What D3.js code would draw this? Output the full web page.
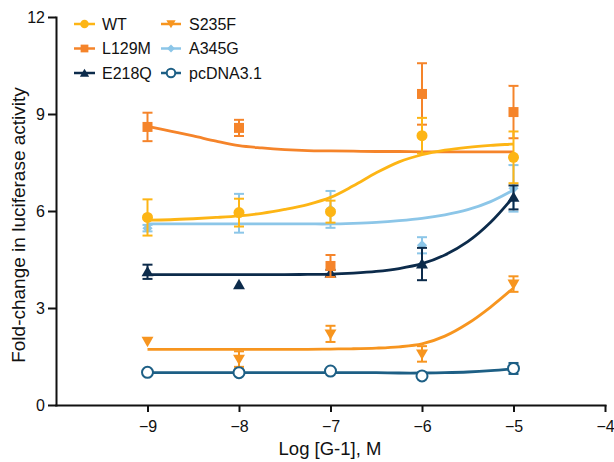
<!DOCTYPE html>
<html>
<head>
<meta charset="utf-8">
<script src="https://cdn.jsdelivr.net/npm/d3@7"></script>
<style>
  body { margin: 0; background: #fff; }
  text { font-family: "Liberation Sans", Arial, Helvetica, sans-serif; fill: #111; }
</style>
</head>
<body>
<svg></svg>
<script>
// log doses where points were measured, and x positions of the fitted curves
var doses = [-9, -8, -7, -6, -5];
var fitX = [-9, -8.75, -8.5, -8.25, -8, -7.75, -7.5, -7.25, -7,
            -6.75, -6.5, -6.25, -6, -5.75, -5.5, -5.25, -5];

var names = ["WT", "L129M", "E218Q", "S235F", "A345G", "pcDNA3.1"];
var colors = ["#fdb515", "#f5842a", "#0c2b4b", "#f7951f", "#8cc6e8", "#1d5f85"];
var shapes = ["circle", "square", "triangle", "triangleDown", "diamond", "openCircle"];

// means and error bars
var wtMean = [5.8, 5.95, 5.98, 8.33, 7.66];
var wtErr = [0.56, 0.43, 0.34, 0.55, 0.8];
var l129mMean = [8.6, 8.57, 4.3, 9.62, 9.06];
var l129mErr = [0.44, 0.25, 0.34, 0.95, 0.81];
var e218qMean = [4.12, 3.72, 4.08, 4.36, 6.42];
var e218qErr = [0.22, 0, 0.1, 0.5, 0.37];
var s235fMean = [1.97, 1.42, 2.2, 1.58, 3.74];
var s235fErr = [0, 0.24, 0.25, 0.24, 0.24];
var a345gMean = [5.47, 5.93, 6.05, 4.94, 6.7];
var a345gErr = [0.1, 0.6, 0.57, 0.25, 0.72];
var pcdnaMean = [1.01, 1.0, 1.05, 0.9, 1.13];
var pcdnaErr = [0.04, 0.03, 0.04, 0.04, 0.17];

// fitted curves, read at fitX
var wtFit = [5.72, 5.73, 5.76, 5.8, 5.85, 5.93, 6.05, 6.2, 6.42,
             6.78, 7.18, 7.52, 7.74, 7.88, 7.97, 8.03, 8.07];
var l129mFit = [8.62, 8.47, 8.32, 8.16, 8.02, 7.95, 7.9, 7.87, 7.86,
                7.85, 7.84, 7.84, 7.83, 7.83, 7.83, 7.83, 7.83];
var e218qFit = [4.03, 4.03, 4.03, 4.03, 4.03, 4.03, 4.03, 4.04, 4.05,
                4.08, 4.13, 4.22, 4.37, 4.64, 5.05, 5.65, 6.44];
var s235fFit = [1.72, 1.72, 1.72, 1.72, 1.72, 1.72, 1.72, 1.72, 1.73,
                1.74, 1.76, 1.8, 1.89, 2.13, 2.52, 3.03, 3.62];
var a345gFit = [5.6, 5.6, 5.6, 5.6, 5.6, 5.6, 5.6, 5.6, 5.6,
                5.62, 5.65, 5.7, 5.77, 5.88, 6.04, 6.29, 6.65];
var pcdnaFit = [1.0, 1.0, 1.0, 1.0, 1.0, 1.0, 1.0, 1.0, 1.0,
                1.0, 1.0, 0.99, 0.99, 1.0, 1.02, 1.06, 1.12];

var xTicks = [-9, -8, -7, -6, -5, -4];
var yTicks = [0, 3, 6, 9, 12];

var allMeans = [wtMean, l129mMean, e218qMean, s235fMean, a345gMean, pcdnaMean];
var allErrs = [wtErr, l129mErr, e218qErr, s235fErr, a345gErr, pcdnaErr];
var allFits = [wtFit, l129mFit, e218qFit, s235fFit, a345gFit, pcdnaFit];

var series = names.map((n, i) => ({
  name: n,
  color: colors[i],
  shape: shapes[i],
  points: doses.map((d, j) => ({ x: d, y: allMeans[i][j], e: allErrs[i][j] })),
  fit: fitX.map((d, j) => ({ x: d, y: allFits[i][j] }))
}));

var width = 614;
var height = 462;
var svg = d3.select("svg")
  .attr("width", width)
  .attr("height", height);

var x = d3.scaleLinear().domain([-10, -4]).range([56, 605]);
var y = d3.scaleLinear().domain([0, 12]).range([405, 17]);

function symbolPath(shape, big) {
  var k = big ? 1 : 0.6;
  if (shape === "circle" || shape === "openCircle") return d3.symbol(d3.symbolCircle, 95 * k)();
  if (shape === "square") return d3.symbol(d3.symbolSquare, 100 * k)();
  if (shape === "triangle" || shape === "triangleDown") return d3.symbol(d3.symbolTriangle, 62 * k)();
  if (shape === "diamond") return d3.symbol(d3.symbolSquare, 52 * k)();
}

function symbolTransform(shape, px, py) {
  var t = "translate(" + px + "," + py + ")";
  if (shape === "triangleDown") t += " rotate(180)";
  if (shape === "diamond") t += " rotate(45)";
  if (shape === "triangle" || shape === "triangleDown") t += " translate(0,1)";
  return t;
}

// axes
var xAxis = svg.append("g")
  .attr("transform", "translate(0,405)")
  .call(d3.axisBottom(x).tickValues(xTicks).tickSize(7).tickSizeOuter(0).tickPadding(9)
    .tickFormat(d => "\u2212" + Math.abs(d)));
var yAxis = svg.append("g")
  .attr("transform", "translate(56,0)")
  .call(d3.axisLeft(y).tickValues(yTicks).tickSize(8).tickSizeOuter(0).tickPadding(3));

[xAxis, yAxis].forEach(g => {
  g.selectAll("path, line").attr("stroke", "#111").attr("stroke-width", 2);
  g.select(".domain").attr("stroke-linecap", "square");
  g.selectAll("text").attr("font-size", 16).attr("fill", "#111")
    .style("font-family", '"Liberation Sans", Arial, sans-serif');
});

svg.append("text")
  .attr("x", 330)
  .attr("y", 455)
  .attr("text-anchor", "middle")
  .attr("font-size", 18.5)
  .text("Log [G-1], M");

svg.append("text")
  .attr("transform", "translate(25,225) rotate(-90)")
  .attr("text-anchor", "middle")
  .attr("font-size", 19)
  .text("Fold-change in luciferase activity");

// series, drawn bottom to top
var order = ["A345G", "E218Q", "S235F", "pcDNA3.1", "L129M", "WT"];
var line = d3.line().x(d => x(d.x)).y(d => y(d.y)).curve(d3.curveCatmullRom.alpha(0.5));

order.forEach(name => {
  var s = series.find(d => d.name === name);
  var g = svg.append("g");

  g.append("path")
    .attr("d", line(s.fit))
    .attr("fill", "none")
    .attr("stroke", s.color)
    .attr("stroke-width", 2.8);

  var bars = g.selectAll("g.err")
    .data(s.points.filter(d => d.e > 0))
    .enter()
    .append("g")
      .attr("stroke", s.color)
      .attr("stroke-width", 2);
  bars.append("line")
    .attr("x1", d => x(d.x)).attr("x2", d => x(d.x))
    .attr("y1", d => y(d.y - d.e)).attr("y2", d => y(d.y + d.e));
  bars.append("line")
    .attr("x1", d => x(d.x) - 5).attr("x2", d => x(d.x) + 5)
    .attr("y1", d => y(d.y + d.e)).attr("y2", d => y(d.y + d.e));
  bars.append("line")
    .attr("x1", d => x(d.x) - 5).attr("x2", d => x(d.x) + 5)
    .attr("y1", d => y(d.y - d.e)).attr("y2", d => y(d.y - d.e));

  g.selectAll("path.mark")
    .data(s.points)
    .enter()
    .append("path")
      .attr("class", "mark")
      .attr("d", symbolPath(s.shape, true))
      .attr("transform", d => symbolTransform(s.shape, x(d.x), y(d.y)))
      .attr("fill", s.shape === "openCircle" ? "#fff" : s.color)
      .attr("stroke", s.shape === "openCircle" ? s.color : "none")
      .attr("stroke-width", 2);
});

// legend
var legend = svg.append("g");
var legendCols = [{ x1: 74, x2: 95, tx: 102 }, { x1: 161, x2: 181, tx: 189 }];
var legendRows = [24, 48.5, 73];

series.forEach((s, i) => {
  var col = legendCols[Math.floor(i / 3)];
  var ry = legendRows[i % 3];
  var cx = (col.x1 + col.x2) / 2;
  var lg = legend.append("g");
  lg.append("line")
    .attr("x1", col.x1).attr("x2", col.x2)
    .attr("y1", ry).attr("y2", ry)
    .attr("stroke", s.color)
    .attr("stroke-width", 2.5);
  lg.append("path")
    .attr("d", symbolPath(s.shape, false))
    .attr("transform", symbolTransform(s.shape, cx, ry))
    .attr("fill", s.shape === "openCircle" ? "#fff" : s.color)
    .attr("stroke", s.shape === "openCircle" ? s.color : "none")
    .attr("stroke-width", 2);
  lg.append("text")
    .attr("x", col.tx)
    .attr("y", ry)
    .attr("dy", "0.35em")
    .attr("font-size", 16)
    .text(s.name);
});
</script>
</body>
</html>
